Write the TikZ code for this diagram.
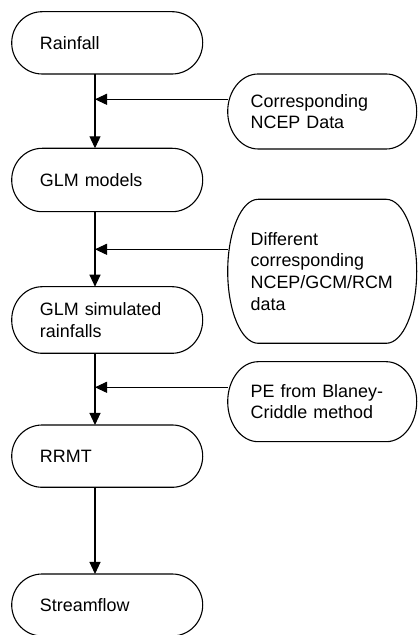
\documentclass[tikz,border=0pt]{standalone}
\usepackage{fontspec}
\setmainfont{Liberation Sans}
\usetikzlibrary{arrows.meta,calc}

\begin{document}
\begin{tikzpicture}[x=1bp,y=1bp,line width=1.1bp,
    font=\fontsize{17.9bp}{21.6bp}\selectfont,
    terminal/.style={rectangle,inner ysep=0pt,outer sep=0pt,align=left},
    leftbox/.style={terminal,inner xsep=28.3bp,text width=134.4bp},
    rightbox/.style={terminal,inner xsep=23bp,text width=143bp},
    flow/.style={-{Triangle[length=12bp,width=11bp]}}]
    \useasboundingbox (0,0) rectangle (417,635);
    \node (Rainfall) [leftbox, minimum height=62.3bp] at (107.2, 592.15) {Rainfall};
    \node (GlmModels) [leftbox, minimum height=63.4bp] at (107.2, 455) {GLM models};
    \node (GlmSimulated) [leftbox, minimum height=66.6bp] at (107.2, 315) {GLM simulated\\rainfalls};
    \node (Rrmt) [leftbox, minimum height=62.3bp] at (107.2, 178.85) {RRMT};
    \node (Streamflow) [leftbox, minimum height=62bp] at (107.2, 30) {Streamflow};
    \node (NcepData) [rightbox, minimum height=75bp] at (322.2, 523.5) {Corresponding\\NCEP Data};
    \node (DifferentData) [rightbox, minimum height=144bp] at (322.2, 363.7) {Different\\corresponding\\NCEP/GCM/RCM\\data};
    \node (BlaneyCriddle) [rightbox, minimum height=80bp] at (322.2, 233.3) {PE from Blaney-\\Criddle method};
    \foreach \b in {Rainfall,GlmModels,GlmSimulated,Rrmt,Streamflow,NcepData,DifferentData,BlaneyCriddle}
        \draw let \p1=(\b.north), \p2=(\b.south), \n1={(\y1-\y2)/2} in
            ([xshift=30.5bp]\b.north west) -- ([xshift=-30.5bp]\b.north east)
            arc[start angle=90, end angle=-90, x radius=30.5bp, y radius=\n1]
            -- ([xshift=30.5bp]\b.south west)
            arc[start angle=270, end angle=90, x radius=30.5bp, y radius=\n1] -- cycle;
    \draw[flow] ([xshift=-12.2bp]Rainfall.south) -- ([xshift=-12.2bp]GlmModels.north);
    \draw[flow] ([xshift=-12.2bp]GlmModels.south) -- ([xshift=-12.2bp]GlmSimulated.north);
    \draw[flow] ([xshift=-12.2bp]GlmSimulated.south) -- ([xshift=-12.2bp]Rrmt.north);
    \draw[flow] ([xshift=-12.2bp]Rrmt.south) -- ([xshift=-12.2bp]Streamflow.north);
    \coordinate (NcepJoin) at (95, 535.7);
    \coordinate (DataJoin) at (95, 385.7);
    \coordinate (PeJoin) at (95, 247.7);
    \draw[flow] (NcepData.west |- NcepJoin) -- (NcepJoin);
    \draw[flow] (DifferentData.west |- DataJoin) -- (DataJoin);
    \draw[flow] (BlaneyCriddle.west |- PeJoin) -- (PeJoin);
\end{tikzpicture}
\end{document}
